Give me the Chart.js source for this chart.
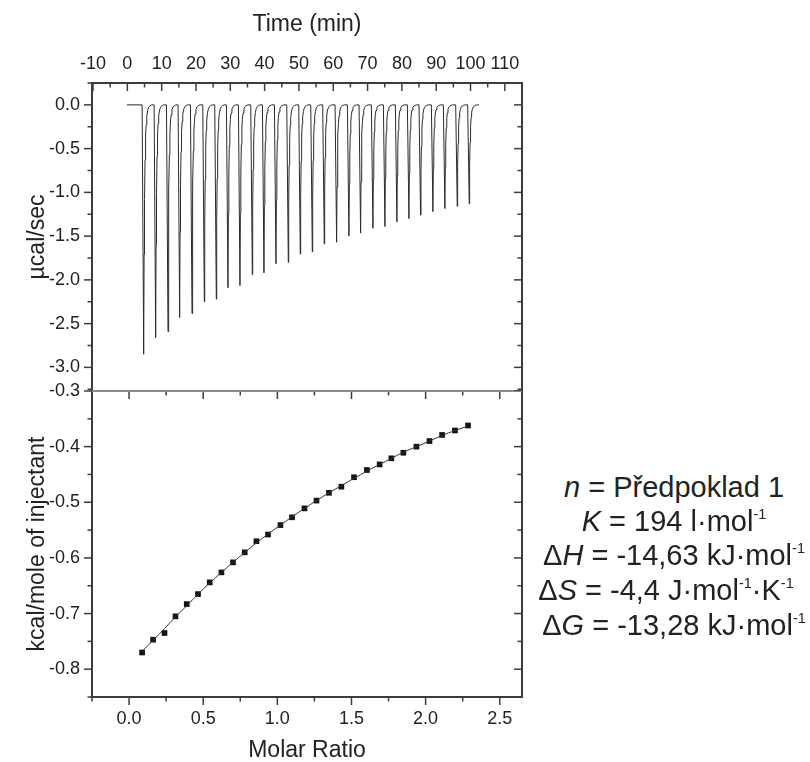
<!DOCTYPE html>
<html>
<head>
<meta charset="utf-8">
<script src="https://cdn.jsdelivr.net/npm/chart.js@4.4.1/dist/chart.umd.min.js"></script>
<style>
  html, body { margin: 0; padding: 0; background: #fff; }
  #wrap { position: relative; width: 810px; height: 762px; overflow: hidden; }
  #cTop { position: absolute; left: 0; top: 0; }
  #cBot { position: absolute; left: 0; top: 380px; }
  .prm { position: absolute; left: 534px; width: 280px; text-align: center;
         font-family: 'Liberation Sans', Arial, sans-serif; font-size: 29px; color: #222;
         white-space: nowrap; line-height: 30px; }
  .prm sup { font-size: 0.5em; vertical-align: 0.85em; line-height: 0; }
</style>
</head>
<body>
<div id="wrap">
  <canvas id="cTop" width="530" height="392"></canvas>
  <canvas id="cBot" width="530" height="384"></canvas>

  <div class="prm" style="top:472px"><i>n</i> = Předpoklad 1</div>
  <div class="prm" style="top:506px"><i>K</i> = 194 l·mol<sup>-1</sup></div>
  <div class="prm" style="top:540px">Δ<i>H</i> = -14,63 kJ·mol<sup>-1</sup></div>
  <div class="prm" style="top:575px; left:526px">Δ<i>S</i> = -4,4 J·mol<sup>-1</sup>·K<sup>-1</sup></div>
  <div class="prm" style="top:610px">Δ<i>G</i> = -13,28 kJ·mol<sup>-1</sup></div>
</div>
<script>
// ---------- data ----------
var TIME_TICKS  = [-10, 0, 10, 20, 30, 40, 50, 60, 70, 80, 90, 100, 110];
var POWER_TICKS = [0, -0.5, -1, -1.5, -2, -2.5, -3];
var RATIO_TICKS = [0, 0.5, 1, 1.5, 2, 2.5];
var HEAT_TICKS  = [-0.3, -0.4, -0.5, -0.6, -0.7, -0.8];

// thermogram: čas hrotu (min) a jeho hloubka (µcal/sec)
var PEAK_TIME = [4.76, 8.25, 11.85, 15.24, 18.84, 22.43, 25.92, 29.32, 32.82, 36.41,
                 39.81, 43.31, 46.90, 50.39, 53.89, 57.38, 60.98, 64.57, 67.97, 71.56,
                 75.06, 78.55, 82.05, 85.44, 89.04, 92.53, 96.13, 99.62];
var PEAK_DEPTH = [-2.85, -2.66, -2.59, -2.43, -2.385, -2.25, -2.22, -2.09, -2.066, -1.94,
                  -1.92, -1.815, -1.80, -1.705, -1.68, -1.59, -1.57, -1.50, -1.466, -1.41,
                  -1.39, -1.337, -1.30, -1.26, -1.22, -1.185, -1.16, -1.13];
// tvar jednoho píku (odečten z 1. injekce): posun od hrotu (min) a podíl hloubky
var PEAK_DT   = [-0.45, 0, 0.12, 0.25, 0.4, 0.55, 0.7, 0.9, 1.15, 1.45, 1.8, 2.3];
var PEAK_FRAC = [0, 1, 0.6, 0.38, 0.22, 0.13, 0.08, 0.045, 0.022, 0.01, 0.004, 0];
var BASE_START = -0.1, BASE_END = 102.5;

// integrované teplo
var MOLAR_RATIO = [0.088, 0.162, 0.239, 0.313, 0.389, 0.465, 0.544, 0.623, 0.701, 0.780,
                   0.859, 0.937, 1.021, 1.099, 1.183, 1.264, 1.348, 1.432, 1.517, 1.604,
                   1.690, 1.769, 1.850, 1.938, 2.026, 2.111, 2.198, 2.286];
var HEAT = [-0.770, -0.747, -0.735, -0.705, -0.683, -0.665, -0.644, -0.626, -0.608, -0.590,
            -0.570, -0.558, -0.541, -0.527, -0.511, -0.497, -0.483, -0.472, -0.455, -0.442,
            -0.432, -0.421, -0.411, -0.400, -0.390, -0.379, -0.371, -0.362];
var HEAT_FIT = [-0.768, -0.748, -0.727, -0.706, -0.686, -0.665, -0.645, -0.626, -0.608, -0.590,
                -0.573, -0.557, -0.541, -0.526, -0.511, -0.497, -0.483, -0.470, -0.457, -0.444,
                -0.432, -0.421, -0.410, -0.400, -0.390, -0.380, -0.371, -0.363];

// ---------- helpers ----------
var FONT = "'Liberation Sans', Arial, sans-serif";
var INK = '#222';
var AXIS = '#3c3c3c';

function thermogram() {
  var pts = [{ x: BASE_START, y: 0 }];
  PEAK_TIME.forEach(function (t, i) {
    PEAK_DT.forEach(function (dt, j) {
      pts.push({ x: t + dt, y: PEAK_DEPTH[i] * PEAK_FRAC[j] });
    });
  });
  pts.push({ x: BASE_END, y: 0 });
  return pts;
}
function halves(arr) {   // vedlejší značky mezi hlavními
  var out = [];
  for (var i = 0; i < arr.length; i++) {
    var step = i + 1 < arr.length ? arr[i + 1] - arr[i] : arr[i] - arr[i - 1];
    if (i === 0) out.push(arr[0] - step / 2);
    out.push(arr[i] + step / 2);
  }
  return out;
}
function fixTicks(list) { return function (s) { s.ticks = list.map(function (v) { return { value: v }; }); }; }
// pevná šířka/výška osy, bez okrajů navíc od popisků
function fitY(w) { return function (s) { s.width = w; s.paddingTop = 0; s.paddingBottom = 0; }; }
function fitX(h) { return function (s) { s.height = h; s.paddingLeft = 0; s.paddingRight = 0; }; }

// rámeček + značky os ve stylu Origin (dovnitř / ven)
var frame = {
  id: 'frame',
  afterDraw: function (chart, args, o) {
    var ctx = chart.ctx, a = chart.chartArea;
    ctx.save();
    ctx.strokeStyle = AXIS;
    ctx.lineWidth = 1.5;
    (o.marks || []).forEach(function (m) {
      var sc = chart.scales[m.scale];
      var sets = [[m.major, 8], [m.minor, 4.5]];
      sets.forEach(function (set) {
        set[0].forEach(function (v) {
          if (v < sc.min - 1e-9 || v > sc.max + 1e-9) return;
          var p = sc.getPixelForValue(v), len = set[1] * (m.dir === 'in' ? 1 : -1);
          ctx.beginPath();
          if (m.edge === 'top')    { ctx.moveTo(p, a.top);    ctx.lineTo(p, a.top + len); }
          if (m.edge === 'bottom') { ctx.moveTo(p, a.bottom); ctx.lineTo(p, a.bottom - len); }
          if (m.edge === 'left')   { ctx.moveTo(a.left, p);   ctx.lineTo(a.left + len, p); }
          if (m.edge === 'right')  { ctx.moveTo(a.right, p);  ctx.lineTo(a.right - len, p); }
          ctx.stroke();
        });
      });
    });
    ctx.lineWidth = 2;
    (o.sides || []).forEach(function (s) {
      ctx.beginPath();
      if (s === 'top')    { ctx.moveTo(a.left - 1, a.top);    ctx.lineTo(a.right + 1, a.top); }
      if (s === 'bottom') { ctx.moveTo(a.left - 1, a.bottom); ctx.lineTo(a.right + 1, a.bottom); }
      if (s === 'left')   { ctx.moveTo(a.left, a.top);        ctx.lineTo(a.left, a.bottom); }
      if (s === 'right')  { ctx.moveTo(a.right, a.top);       ctx.lineTo(a.right, a.bottom); }
      ctx.stroke();
    });
    if (o.split) {   // tenká dělicí čára mezi panely
      ctx.strokeStyle = '#8a8a8a';
      ctx.lineWidth = 1;
      var y = o.split === 'top' ? a.top + 0.5 : a.bottom - 0.5;
      ctx.beginPath(); ctx.moveTo(a.left, y); ctx.lineTo(a.right, y); ctx.stroke();
    }
    ctx.restore();
  }
};

function tickFont() { return { family: FONT, size: 18 }; }
function titleFont() { return { family: FONT, size: 23 }; }

Chart.defaults.font.family = FONT;
Chart.defaults.color = INK;

// ---------- horní panel: thermogram ----------
new Chart(document.getElementById('cTop'), {
  type: 'line',
  data: {
    datasets: [{
      data: thermogram(), borderColor: '#2a2a2a', borderWidth: 1,
      pointRadius: 0, tension: 0, fill: false
    }]
  },
  options: {
    responsive: false, animation: false, devicePixelRatio: 1,
    layout: { padding: { left: 20, right: 8, top: 0, bottom: 1 } },
    plugins: {
      legend: { display: false }, tooltip: { enabled: false },
      frame: {
        sides: ['left', 'top', 'right'], split: 'bottom',
        marks: [
          { scale: 'x', edge: 'top', dir: 'in', major: TIME_TICKS, minor: halves(TIME_TICKS) },
          { scale: 'y', edge: 'left', dir: 'out', major: POWER_TICKS, minor: halves(POWER_TICKS) },
          { scale: 'y', edge: 'right', dir: 'in', major: POWER_TICKS, minor: halves(POWER_TICKS) }
        ]
      }
    },
    scales: {
      x: {
        type: 'linear', position: 'top', min: -10.3, max: 115,
        afterBuildTicks: fixTicks(TIME_TICKS),
        afterFit: fitX(83),
        grid: { display: false, drawTicks: false }, border: { display: false },
        ticks: { font: tickFont(), color: INK, padding: 8, autoSkip: false, maxRotation: 0,
                 callback: function (v) { return String(v); } },
        title: { display: true, text: 'Time (min)', font: titleFont(), color: INK, padding: { top: 11, bottom: 0 } }
      },
      y: {
        type: 'linear', position: 'left', min: -3.27, max: 0.25,
        afterBuildTicks: fixTicks(POWER_TICKS),
        afterFit: fitY(72),
        grid: { display: false, drawTicks: false }, border: { display: false },
        ticks: { font: tickFont(), color: INK, padding: 12, autoSkip: false,
                 callback: function (v) { return v.toFixed(1); } },
        title: { display: true, text: 'µcal/sec', font: titleFont(), color: INK, padding: { top: 4, bottom: 0 } }
      }
    }
  },
  plugins: [frame]
});

// ---------- dolní panel: integrovaná tepla ----------
new Chart(document.getElementById('cBot'), {
  type: 'line',
  data: {
    datasets: [{
      data: MOLAR_RATIO.map(function (x, i) { return { x: x, y: HEAT_FIT[i] }; }),
      borderColor: '#333', borderWidth: 1, pointRadius: 0, tension: 0.3, fill: false
    }, {
      data: MOLAR_RATIO.map(function (x, i) { return { x: x, y: HEAT[i] }; }),
      showLine: false, pointStyle: 'rect', pointRadius: 4,
      pointBackgroundColor: '#111', pointBorderColor: '#111', pointBorderWidth: 0
    }]
  },
  options: {
    responsive: false, animation: false, devicePixelRatio: 1,
    layout: { padding: { left: 20, right: 8, top: 11, bottom: 0 } },
    plugins: {
      legend: { display: false }, tooltip: { enabled: false },
      frame: {
        sides: ['left', 'bottom', 'right'], split: 'top',
        marks: [
          { scale: 'x', edge: 'bottom', dir: 'out', major: RATIO_TICKS, minor: halves(RATIO_TICKS) },
          { scale: 'x', edge: 'top', dir: 'in', major: RATIO_TICKS, minor: halves(RATIO_TICKS) },
          { scale: 'y', edge: 'left', dir: 'out', major: HEAT_TICKS, minor: halves(HEAT_TICKS) },
          { scale: 'y', edge: 'right', dir: 'in', major: HEAT_TICKS, minor: halves(HEAT_TICKS) }
        ]
      }
    },
    scales: {
      x: {
        type: 'linear', position: 'bottom', min: -0.25, max: 2.65,
        afterBuildTicks: fixTicks(RATIO_TICKS),
        afterFit: fitX(67),
        grid: { display: false, drawTicks: false }, border: { display: false },
        ticks: { font: tickFont(), color: INK, padding: 11, autoSkip: false, maxRotation: 0,
                 callback: function (v) { return v.toFixed(1); } },
        title: { display: true, text: 'Molar Ratio', font: titleFont(), color: INK, padding: { top: 0, bottom: 0 } }
      },
      y: {
        type: 'linear', position: 'left', min: -0.85, max: -0.3,
        afterBuildTicks: fixTicks(HEAT_TICKS),
        afterFit: fitY(72),
        grid: { display: false, drawTicks: false }, border: { display: false },
        ticks: { font: tickFont(), color: INK, padding: 12, autoSkip: false,
                 callback: function (v) { return v.toFixed(1); } },
        title: { display: true, text: 'kcal/mole of injectant', font: titleFont(), color: INK, padding: { top: 4, bottom: 0 } }
      }
    }
  },
  plugins: [frame]
});
</script>
</body>
</html>
